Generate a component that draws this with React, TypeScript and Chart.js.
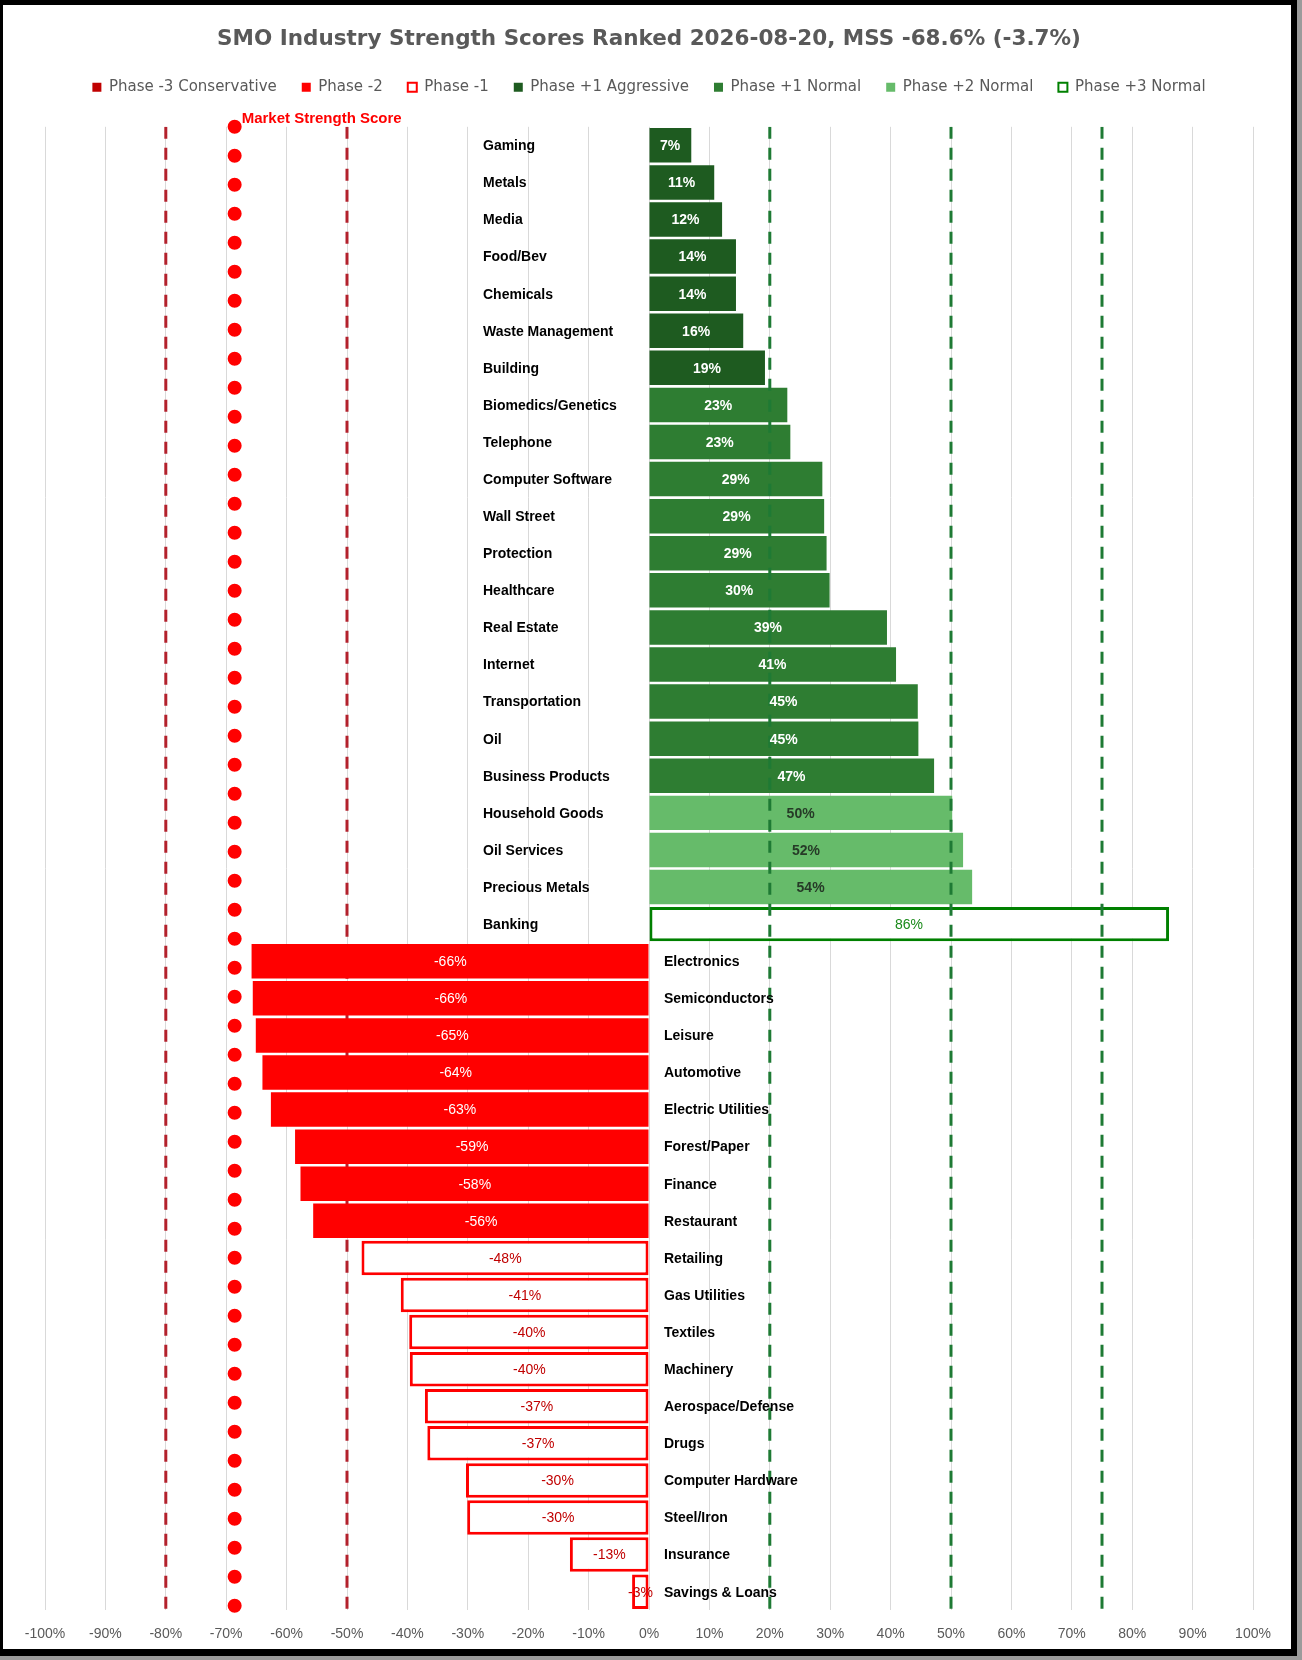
import { useEffect, useRef } from "react"
import { Chart, registerables } from "chart.js"

Chart.register(...registerables)

// ranked industries, top to bottom
const categories = [
  "Gaming", "Metals", "Media", "Food/Bev", "Chemicals", "Waste Management", "Building",
  "Biomedics/Genetics", "Telephone", "Computer Software", "Wall Street", "Protection", "Healthcare",
  "Real Estate", "Internet", "Transportation", "Oil", "Business Products",
  "Household Goods", "Oil Services", "Precious Metals",
  "Banking",
  "Electronics", "Semiconductors", "Leisure", "Automotive", "Electric Utilities", "Forest/Paper",
  "Finance", "Restaurant",
  "Retailing", "Gas Utilities", "Textiles", "Machinery", "Aerospace/Defense", "Drugs",
  "Computer Hardware", "Steel/Iron", "Insurance", "Savings & Loans",
]

const scores = [
  7.0, 10.8, 12.1, 14.4, 14.4, 15.6, 19.2,
  22.9, 23.4, 28.7, 29.0, 29.4, 29.9,
  39.4, 40.9, 44.5, 44.6, 47.2,
  50.2, 52.0, 53.5,
  86.1,
  -65.8, -65.6, -65.1, -64.0, -62.6, -58.6,
  -57.7, -55.6,
  -47.6, -41.1, -39.7, -39.6, -37.1, -36.7,
  -30.3, -30.1, -13.1, -2.8,
]

const phases = [
  "+1A", "+1A", "+1A", "+1A", "+1A", "+1A", "+1A",
  "+1N", "+1N", "+1N", "+1N", "+1N", "+1N",
  "+1N", "+1N", "+1N", "+1N", "+1N",
  "+2N", "+2N", "+2N",
  "+3N",
  "-2", "-2", "-2", "-2", "-2", "-2",
  "-2", "-2",
  "-1", "-1", "-1", "-1", "-1", "-1",
  "-1", "-1", "-1", "-1",
]

const mss = -68.6
const redLevels = [-80, -50]
const greenLevels = [20, 50, 75]

const phaseStyles = [
  { key: "-3", label: "Phase -3 Conservative", fill: "#C00000", border: "#C00000", outline: false, text: "#FFFFFF", bold: false },
  { key: "-2", label: "Phase -2", fill: "#FF0000", border: "#FF0000", outline: false, text: "#FFFFFF", bold: false },
  { key: "-1", label: "Phase -1", fill: "#FFFFFF", border: "#FF0000", outline: true, text: "#C00000", bold: false },
  { key: "+1A", label: "Phase +1 Aggressive", fill: "#1E5B20", border: "#1E5B20", outline: false, text: "#FFFFFF", bold: true },
  { key: "+1N", label: "Phase +1 Normal", fill: "#2E7D32", border: "#2E7D32", outline: false, text: "#FFFFFF", bold: true },
  { key: "+2N", label: "Phase +2 Normal", fill: "#66BB6A", border: "#66BB6A", outline: false, text: "#263A27", bold: true },
  { key: "+3N", label: "Phase +3 Normal", fill: "#FFFFFF", border: "#008000", outline: true, text: "#1A8A1A", bold: false },
]

const SANS = "'Liberation Sans', Arial, sans-serif"

// industry names, value labels and the MSS caption
const labelsPlugin = {
  id: "barLabels",
  afterDatasetsDraw(chart: any) {
    const { ctx, chartArea } = chart
    const x = chart.scales.x
    const y = chart.scales.y
    const zero = x.getPixelForValue(0)
    ctx.save()
    ctx.textBaseline = "middle"
    categories.forEach((name, i) => {
      const yy = y.getPixelForValue(i)
      ctx.font = `bold 14px ${SANS}`
      ctx.fillStyle = "#000000"
      ctx.textAlign = "left"
      ctx.fillText(name, scores[i] >= 0 ? zero - 166 : zero + 15, yy + 1)

      const st = phaseStyles.find((p) => p.key === phases[i])!
      ctx.font = `${st.bold ? "bold " : ""}14px ${SANS}`
      ctx.fillStyle = st.text
      ctx.textAlign = "center"
      ctx.fillText(`${Math.round(scores[i])}%`, x.getPixelForValue(scores[i] / 2), yy + 1)
    })
    ctx.font = `bold 15px ${SANS}`
    ctx.fillStyle = "#FF0000"
    ctx.textAlign = "left"
    ctx.fillText("Market Strength Score", x.getPixelForValue(mss) + 7, chartArea.top - 8)
    ctx.restore()
  },
}

// extra room under the legend
const legendGap = {
  id: "legendGap",
  beforeInit(chart: any) {
    const fit = chart.legend.fit
    chart.legend.fit = function () {
      fit.bind(chart.legend)()
      this.height += 22
    }
  },
}

export default function App() {
  const canvasRef = useRef<HTMLCanvasElement>(null)
  const chartRef = useRef<Chart | null>(null)

  useEffect(() => {
    if (!canvasRef.current) return
    if (chartRef.current) chartRef.current.destroy()

    const bars = phaseStyles.map((p) => ({
      type: "bar" as const,
      label: p.label,
      data: scores.map((v, i) => (phases[i] === p.key ? v : null)),
      backgroundColor: p.fill,
      borderColor: p.border,
      borderWidth: p.outline ? 3 : 0,
      borderSkipped: false,
      grouped: false,
      barPercentage: 0.93,
      categoryPercentage: 1,
      xAxisID: "x",
      yAxisID: "y",
      order: 1,
    }))

    const level = (v: number, color: string, order: number) => ({
      type: "scatter" as const,
      label: "",
      indexAxis: "x" as const,
      data: [{ x: v, y: 0 }, { x: v, y: 1 }],
      showLine: true,
      borderColor: color,
      borderWidth: 3,
      borderDash: [12, 9],
      pointRadius: 0,
      xAxisID: "x",
      yAxisID: "y2",
      order,
    })

    const datasets: any[] = [
      ...bars,
      ...redLevels.map((v) => level(v, "#B3212C", 2)),
      ...greenLevels.map((v) => level(v, "#1E7A34", 0)),
      {
        type: "scatter",
        label: "Market Strength Score",
        indexAxis: "x",
        data: [{ x: mss, y: 0 }, { x: mss, y: 1 }],
        showLine: true,
        borderColor: "#FF0000",
        borderWidth: 14,
        borderDash: [0, 29],
        borderCapStyle: "round",
        pointRadius: 0,
        clip: false,
        xAxisID: "x",
        yAxisID: "y2",
        order: 0,
      },
    ]

    chartRef.current = new Chart(canvasRef.current, {
      type: "bar",
      data: { labels: categories, datasets },
      options: {
        indexAxis: "y",
        responsive: true,
        maintainAspectRatio: false,
        animation: false,
        events: [],
        layout: { padding: { left: 42, right: 38, top: 0, bottom: 0 } },
        scales: {
          x: {
            type: "linear",
            min: -100,
            max: 100,
            ticks: {
              stepSize: 10,
              color: "#595959",
              padding: 6,
              font: { family: SANS, size: 14 },
              callback: (v: any) => `${v}%`,
            },
            grid: { color: "#D9D9D9", lineWidth: 1, drawTicks: true, tickLength: 10, tickColor: "rgba(0,0,0,0)" },
            border: { display: false },
          },
          y: { type: "category", display: false, grid: { display: false } },
          y2: { type: "linear", display: false, min: 0, max: 1, reverse: true, offset: false },
        },
        plugins: {
          title: {
            display: true,
            text: "SMO Industry Strength Scores Ranked 2026-08-20, MSS -68.6% (-3.7%)",
            color: "#595959",
            font: { family: "'DejaVu Sans', sans-serif", size: 21.5, weight: "bold" },
            padding: { top: 22, bottom: 2 },
          },
          legend: {
            position: "top",
            labels: {
              color: "#595959",
              boxWidth: 9,
              boxHeight: 9,
              padding: 25,
              font: { family: "'DejaVu Sans', sans-serif", size: 15 },
              generateLabels: () =>
                phaseStyles.map((p, i) => ({
                  text: p.label,
                  fillStyle: p.fill,
                  strokeStyle: p.border,
                  lineWidth: p.outline ? 2 : 0,
                  fontColor: "#595959",
                  hidden: false,
                  datasetIndex: i,
                })),
            },
          },
          tooltip: { enabled: false },
        },
      },
      plugins: [labelsPlugin, legendGap],
    } as any)

    return () => {
      if (chartRef.current) {
        chartRef.current.destroy()
        chartRef.current = null
      }
    }
  }, [])

  return (
    <div style={{ position: "absolute", left: 0, top: 0, width: 1302, height: 1660, background: "#9b9b9b" }}>
      <div
        style={{
          position: "absolute",
          left: 0,
          top: 0,
          width: 1297,
          height: 1656,
          boxSizing: "border-box",
          borderStyle: "solid",
          borderColor: "#000",
          borderWidth: "5px 6px 7px 3px",
          background: "#fff",
        }}
      >
        <div style={{ position: "relative", width: 1288, height: 1644 }}>
          <canvas ref={canvasRef} />
        </div>
      </div>
    </div>
  )
}
